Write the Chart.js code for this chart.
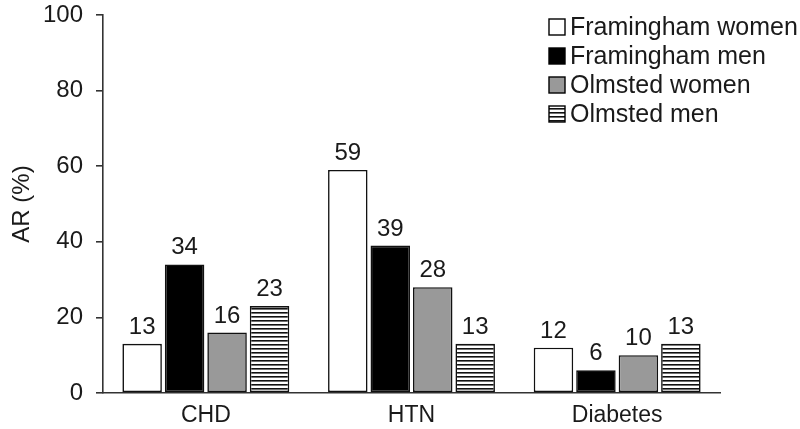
<!DOCTYPE html>
<html lang="en">
<head>
    <meta charset="UTF-8">
    <title>AR bar chart</title>
    <script src="https://cdn.jsdelivr.net/npm/chart.js@4.4.0/dist/chart.umd.min.js"></script>
    <style>
        html, body { margin: 0; padding: 0; background: #fff; }
    </style>
</head>
<body>
    <div style="width:800px;height:429px;">
        <canvas id="barChart" width="800" height="429"></canvas>
    </div>
    <script>
        const categories = ['CHD', 'HTN', 'Diabetes'];
        const seriesNames = ['Framingham women', 'Framingham men', 'Olmsted women', 'Olmsted men'];
        const framinghamWomen = [13, 59, 12];
        const framinghamMen = [34, 39, 6];
        const olmstedWomen = [16, 28, 10];
        const olmstedMen = [23, 13, 13];
        const yTicks = [0, 20, 40, 60, 80, 100];

        const FONT = "'Liberation Sans', Arial, sans-serif";
        const INK = '#1a1a1a';

        // horizontal stripes for the Olmsted men bars
        function stripes() {
            const c = document.createElement('canvas');
            c.width = 8; c.height = 4;
            const g = c.getContext('2d');
            g.fillStyle = '#fff';
            g.fillRect(0, 0, 8, 4);
            g.fillStyle = '#111';
            g.fillRect(0, 0, 8, 1.6);
            return g.createPattern(c, 'repeat');
        }

        const ctx = document.getElementById('barChart').getContext('2d');
        const fills = ['#ffffff', '#000000', '#999999', stripes()];
        const seriesValues = [framinghamWomen, framinghamMen, olmstedWomen, olmstedMen];

        const valueLabels = {
            id: 'valueLabels',
            afterDatasetsDraw(chart) {
                const c = chart.ctx;
                c.save();
                c.font = '24px ' + FONT;
                c.fillStyle = INK;
                c.textAlign = 'center';
                c.textBaseline = 'alphabetic';
                chart.data.datasets.forEach((ds, i) => {
                    chart.getDatasetMeta(i).data.forEach((bar, j) => {
                        c.fillText(ds.data[j], bar.x, bar.y - 10);
                    });
                });
                c.restore();
            }
        };

        const boxLegend = {
            id: 'boxLegend',
            afterDraw(chart) {
                const c = chart.ctx;
                c.save();
                c.font = '25px ' + FONT;
                c.textBaseline = 'middle';
                chart.data.datasets.forEach((ds, i) => {
                    const y = 27 + i * 29;
                    c.fillStyle = ds.backgroundColor;
                    c.fillRect(549, y - 8, 16, 16);
                    c.strokeStyle = '#000';
                    c.lineWidth = 1.4;
                    c.strokeRect(549, y - 8, 16, 16);
                    c.fillStyle = INK;
                    c.fillText(ds.label, 570, y + 1);
                });
                c.restore();
            }
        };

        new Chart(ctx, {
            type: 'bar',
            data: {
                labels: categories,
                datasets: seriesNames.map((name, i) => ({
                    label: name,
                    data: seriesValues[i],
                    backgroundColor: fills[i],
                    borderColor: '#111',
                    borderWidth: 1.6,
                    borderSkipped: false,
                    categoryPercentage: 0.826,
                    barPercentage: 0.93
                }))
            },
            options: {
                responsive: false,
                animation: false,
                layout: { padding: { top: 15, right: 80, left: 0, bottom: 0 } },
                plugins: {
                    legend: { display: false },
                    tooltip: { enabled: false }
                },
                scales: {
                    x: {
                        grid: { display: false, drawTicks: false },
                        border: { color: '#333', width: 1.6 },
                        ticks: { color: INK, font: { family: FONT, size: 23 }, padding: 9 },
                        afterFit(scale) {
                            scale.height = 36;
                            scale.paddingLeft = 0;
                            scale.paddingRight = 0;
                        }
                    },
                    y: {
                        min: 0,
                        max: 100,
                        afterBuildTicks(scale) { scale.ticks = yTicks.map(v => ({ value: v })); },
                        grid: { drawOnChartArea: false, tickLength: 7, color: '#333', lineWidth: 1.6 },
                        border: { color: '#333', width: 1.6 },
                        ticks: { color: INK, font: { family: FONT, size: 24 }, padding: 13 },
                        title: {
                            display: true,
                            text: 'AR (%)',
                            color: INK,
                            font: { family: FONT, size: 24 },
                            padding: { top: 8, bottom: 4 }
                        },
                        afterFit(scale) {
                            scale.width = 103;
                            scale.paddingTop = 0;
                            scale.paddingBottom = 0;
                        }
                    }
                }
            },
            plugins: [valueLabels, boxLegend]
        });
    </script>
</body>
</html>
